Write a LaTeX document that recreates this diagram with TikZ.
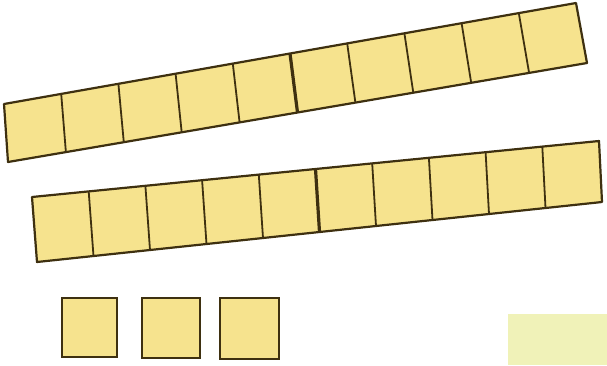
\documentclass[tikz,border=0pt]{standalone}
\usetikzlibrary{calc}
\definecolor{cubefill}{RGB}{246,227,142}
\definecolor{cubeedge}{RGB}{62,48,16}
\definecolor{paleblock}{RGB}{240,242,184}
\tikzset{
  rodbox/.style={fill=cubefill, draw=cubeedge, line width=2.2pt, line join=round},
  divline/.style={draw=cubeedge, line width=1.8pt},
  middiv/.style={draw=cubeedge, line width=3.2pt},
  unitbox/.style={fill=cubefill, draw=cubeedge, line width=2.2pt}
}
\begin{document}
\begin{tikzpicture}[x=1pt,y=-1pt]
\useasboundingbox (0,0) rectangle (607,365);
\fill[white] (0,0) rectangle (607,365);
% pale block bottom right
\fill[paleblock] (508,314) rectangle (607,365);
% rod corners
\coordinate (aTL) at (4,104);  \coordinate (aTR) at (576,3);
\coordinate (aBL) at (8,162);  \coordinate (aBR) at (587,63);
\coordinate (bTL) at (32,197); \coordinate (bTR) at (599,141);
\coordinate (bBL) at (37,262); \coordinate (bBR) at (602,202);
\foreach \r in {a,b}{
  \draw[rodbox] (\r TL) -- (\r TR) -- (\r BR) -- (\r BL) -- cycle;
  \foreach \k in {1,2,3,4,6,7,8,9}{
    \draw[divline] ($(\r TL)!\k/10!(\r TR)$) -- ($(\r BL)!\k/10!(\r BR)$);
  }
  \draw[middiv] ($(\r TL)!0.5!(\r TR)$) -- ($(\r BL)!0.5!(\r BR)$);
}
% unit cubes
\draw[unitbox] (62,298) rectangle (117,357);
\draw[unitbox] (142,298) rectangle (200,358);
\draw[unitbox] (220,298) rectangle (279,359);
\end{tikzpicture}
\end{document}
